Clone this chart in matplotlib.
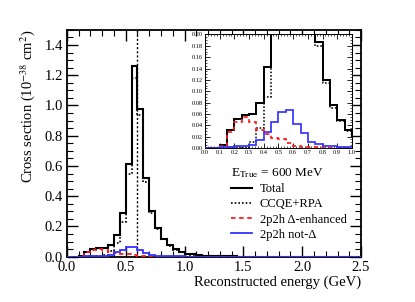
import numpy as np
import matplotlib
matplotlib.use("Agg")
from matplotlib import pyplot as plt
from matplotlib.lines import Line2D
from matplotlib.ticker import MultipleLocator, FormatStrFormatter

plt.rcParams['font.family'] = ['Liberation Serif', 'DejaVu Serif']
plt.rcParams['mathtext.fontset'] = 'stix'

# bin edges 0.0 -> 2.5 GeV, 0.05 GeV wide
bin_edges = np.linspace(0.0, 2.5, 51)

total = [0.0, 0.0, 0.005, 0.032, 0.051, 0.058, 0.060, 0.080, 0.143, 0.292,
         0.615, 1.260, 0.980, 0.522, 0.304, 0.187, 0.119, 0.075, 0.049, 0.032,
         0.021, 0.015, 0.010, 0.007, 0.005, 0.004, 0.003, 0.002, 0.002, 0.001,
         0.001, 0.001, 0.0005, 0.0005, 0.0, 0.0, 0.0, 0.0, 0.0, 0.0,
         0.0, 0.0, 0.0, 0.0, 0.0, 0.0, 0.0, 0.0, 0.0, 0.0]

ccqe_rpa = [0.0, 0.0, 0.0, 0.002, 0.0015, 0.0005, 0.010, 0.036, 0.089, 0.230,
            0.545, 1.184, 0.934, 0.494, 0.292, 0.180, 0.115, 0.071, 0.047, 0.030,
            0.020, 0.014, 0.0095, 0.007, 0.005, 0.004, 0.003, 0.002, 0.002, 0.001,
            0.001, 0.001, 0.0005, 0.0005, 0.0, 0.0, 0.0, 0.0, 0.0, 0.0,
            0.0, 0.0, 0.0, 0.0, 0.0, 0.0, 0.0, 0.0, 0.0, 0.0]

delta_enh = [0.0, 0.0, 0.004, 0.028, 0.046, 0.054, 0.045, 0.032, 0.025, 0.017,
             0.015, 0.0094, 0.0035, 0.002, 0.001, 0.001, 0.0005, 0.0, 0.0, 0.0,
             0.0, 0.0, 0.0, 0.0, 0.0, 0.0, 0.0, 0.0, 0.0, 0.0,
             0.0, 0.0, 0.0, 0.0, 0.0, 0.0, 0.0, 0.0, 0.0, 0.0,
             0.0, 0.0, 0.0, 0.0, 0.0, 0.0, 0.0, 0.0, 0.0, 0.0]

not_delta = [0.0, 0.0, 0.001, 0.002, 0.0035, 0.004, 0.005, 0.014, 0.029, 0.045,
             0.064, 0.067, 0.042, 0.026, 0.011, 0.0065, 0.0035, 0.003, 0.002, 0.0015,
             0.001, 0.001, 0.0005, 0.0, 0.0, 0.0, 0.0, 0.0, 0.0, 0.0,
             0.0, 0.0, 0.0, 0.0, 0.0, 0.0, 0.0, 0.0, 0.0, 0.0,
             0.0, 0.0, 0.0, 0.0, 0.0, 0.0, 0.0, 0.0, 0.0, 0.0]

e_true = 0.6
labels = ["Total", "CCQE+RPA", "2p2h \u0394-enhanced", "2p2h not-\u0394"]

RED = '#ff1a1a'
BLUE = '#3333ff'


def draw_hists(ax, lw_scale=1.0):
    ax.stairs(total, bin_edges, color='black', lw=1.5 * lw_scale, zorder=3)
    ax.stairs(ccqe_rpa, bin_edges, color='black', lw=1.2 * lw_scale,
              ls=(0, (1, 1.2)), zorder=4)
    ax.stairs(delta_enh, bin_edges, color=RED, lw=1.3 * lw_scale,
              ls=(0, (2.5, 2)), zorder=5)
    ax.stairs(not_delta, bin_edges, color=BLUE, lw=1.3 * lw_scale, zorder=6)


def root_ticks(ax, length=7, width=1.0):
    ax.tick_params(which='both', direction='in', top=True, right=True)
    ax.tick_params(which='major', length=length, width=width)
    ax.tick_params(which='minor', length=length * 0.5, width=width * 0.8)


fig = plt.figure(figsize=(4.15, 3.02), dpi=100)
ax = fig.add_axes([0.161, 0.150, 0.709, 0.751])

draw_hists(ax)
ax.axvline(e_true, color='black', lw=1.0, ls=(0, (1.5, 1.5)), zorder=2)

ax.set_xlim(0, 2.5)
ax.set_ylim(0, 1.5)
ax.xaxis.set_major_locator(MultipleLocator(0.5))
ax.xaxis.set_minor_locator(MultipleLocator(0.1))
ax.yaxis.set_major_locator(MultipleLocator(0.2))
ax.yaxis.set_minor_locator(MultipleLocator(0.05))
ax.xaxis.set_major_formatter(FormatStrFormatter('%.1f'))
ax.yaxis.set_major_formatter(FormatStrFormatter('%.1f'))
root_ticks(ax, length=8, width=1.0)
ax.tick_params(labelsize=10.5, pad=3)
for s in ax.spines.values():
    s.set_linewidth(1.3)

ax.set_xlabel("Reconstructed energy (GeV)", fontsize=10.5, loc='right', labelpad=1)
ax.set_ylabel("Cross section (10$^{-38}$ cm$^2$)", fontsize=10.5, loc='top', labelpad=5)

handles = [Line2D([], [], color='black', lw=1.5),
           Line2D([], [], color='black', lw=1.2, ls=(0, (1, 1.2))),
           Line2D([], [], color=RED, lw=1.3, ls=(0, (2.5, 2))),
           Line2D([], [], color=BLUE, lw=1.3)]
leg = ax.legend(handles, labels, title="E$_{\\rm True}$ = 600 MeV",
                loc='upper left', bbox_to_anchor=(0.558, 0.398),
                frameon=False, fontsize=9, title_fontsize=9.5,
                handlelength=1.7, handletextpad=0.6, labelspacing=0.25,
                borderpad=0, borderaxespad=0, alignment='left')

# zoomed inset of the low part
axin = fig.add_axes([0.494, 0.510, 0.354, 0.376])
draw_hists(axin, lw_scale=0.95)
axin.set_xlim(0, 1.0)
axin.set_ylim(0, 0.2001)
axin.xaxis.set_major_locator(MultipleLocator(0.1))
axin.xaxis.set_minor_locator(MultipleLocator(0.02))
axin.yaxis.set_major_locator(MultipleLocator(0.02))
axin.yaxis.set_minor_locator(MultipleLocator(0.005))
axin.xaxis.set_major_formatter(FormatStrFormatter('%.1f'))
axin.yaxis.set_major_formatter(FormatStrFormatter('%.2f'))
root_ticks(axin, length=3.5, width=0.6)
axin.tick_params(labelsize=4.6, pad=1.5)
for s in axin.spines.values():
    s.set_linewidth(0.7)

fig.savefig("out.png", dpi=100)
